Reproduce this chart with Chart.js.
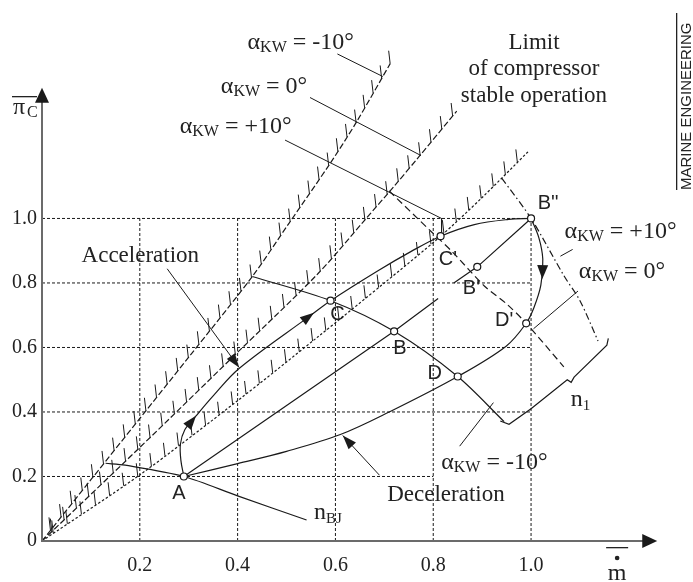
<!DOCTYPE html>
<html>
<head>
<meta charset="utf-8">
<script src="https://cdn.jsdelivr.net/npm/chart.js@4.4.1/dist/chart.umd.min.js"></script>
<style>
  html, body { margin: 0; padding: 0; background: #fff; }
  #wrap { width: 693px; height: 582px; }
</style>
</head>
<body>
<div id="wrap"><canvas id="c" width="693" height="582"></canvas></div>
<script>
// tick values
const xTicks = [0.2, 0.4, 0.6, 0.8, 1.0];
const yTicks = [0, 0.2, 0.4, 0.6, 0.8, 1.0];

// compressor stable operation limits (alpha_KW = -10, 0, +10 deg)
const surgeM10 = [[0,0],[0.1,0.19],[0.2,0.38],[0.3,0.57],[0.43,0.82],[0.505,0.985],[0.588,1.168],[0.641,1.294],[0.712,1.48]];
const surge0   = [[0,0],[0.2,0.29],[0.4,0.585],[0.565,0.83],[0.66,0.995],[0.72,1.1],[0.77,1.19],[0.848,1.333]];
const surgeP10 = [[0,0],[0.2,0.205],[0.4,0.435],[0.565,0.634],[0.7,0.8],[0.815,0.945],[0.9,1.065],[0.996,1.21]];

// n1 lines for the three blade angles
const n1M10 = [[0.43,0.82],[0.59,0.745],[0.72,0.65],[0.85,0.51],[0.945,0.37]];
const n10   = [[0.71,1.085],[0.794,0.962],[0.84,0.895],[0.905,0.79],[0.95,0.735],[0.99,0.675],[1.067,0.54]];
const n1P10 = [[0.94,1.125],[1.0,1.0],[1.067,0.823],[1.10,0.745],[1.137,0.62]];
const nBJ   = [[0.13,0.241],[0.17,0.235],[0.29,0.2],[0.4,0.14],[0.541,0.065]];

// manoeuvre paths
const accelPath = [[0.29,0.2],[0.284,0.25],[0.283,0.30],[0.292,0.345],[0.315,0.388],[0.35,0.45],[0.403,0.535],[0.548,0.698],[0.59,0.745],[0.687,0.838],[0.755,0.898],[0.815,0.945],[0.884,0.981],[0.954,0.997],[1.0,1.0]];
const decelPath = [[1.0,1.0],[1.016,0.94],[1.024,0.874],[1.02,0.793],[1.006,0.724],[0.99,0.675],[0.949,0.604],[0.85,0.51],[0.71,0.40],[0.61,0.33],[0.5,0.278],[0.4,0.24],[0.29,0.2]];
const lineAB  = [[0.29,0.2],[0.72,0.65],[0.81,0.752]];
const lineB2  = [[0.842,0.80],[0.89,0.85],[1.0,1.0]];

// operating points
const pointNames = ['A', 'B', 'C', 'D', "B'", "C'", "D'", "B''"];
const pointVals  = [[0.29,0.2],[0.72,0.65],[0.59,0.745],[0.85,0.51],[0.89,0.85],[0.815,0.945],[0.99,0.675],[1.0,1.0]];

// brace grouping the n1 lines
const braceN1 = [[1.158,0.628],[1.155,0.607],[1.088,0.508],[1.082,0.492],[1.074,0.50],[1.0,0.41],[0.955,0.362],[0.937,0.372]];

// leader lines and label arrows
const leadTopM10 = [[0.604,1.51],[0.697,1.44]];
const leadTop0   = [[0.548,1.375],[0.775,1.195]];
const leadTopP10 = [[0.497,1.243],[0.817,1.0],[0.817,0.957]];
const leadRP10   = [[1.06,0.883],[1.085,0.904]];
const leadR0     = [[1.005,0.658],[1.096,0.775]];
const leadLowM10 = [[0.854,0.294],[0.923,0.429]];
const accLabelArrow = [[0.256,0.844],[0.403,0.538]];
const decLabelArrow = [[0.69,0.204],[0.615,0.327]];

const INK = '#1a1a1a';
const SERIF = "'Liberation Serif', 'Times New Roman', serif";
const SANS = "'Liberation Sans', Arial, sans-serif";

function xy(arr) { return arr.map(p => ({ x: p[0], y: p[1] })); }

function line(arr, opts) {
    return Object.assign({
        data: xy(arr),
        showLine: true,
        pointRadius: 0,
        borderColor: INK,
        borderWidth: 1.2,
        fill: false,
        tension: 0,
        order: 1
    }, opts || {});
}

const datasets = [
    {
        data: xy(pointVals),
        showLine: false,
        pointRadius: 3.5,
        pointBackgroundColor: '#fff',
        pointBorderColor: INK,
        pointBorderWidth: 1.2,
        order: 0
    },
    line(accelPath, { tension: 0.35 }),
    line(decelPath, { tension: 0.35 }),
    line(lineAB),
    line(lineB2),
    line(n1M10, { tension: 0.3 }),
    line(n10, { tension: 0.3, borderDash: [7, 4] }),
    line(n1P10, { tension: 0.3, borderDash: [7, 3, 1.5, 3] }),
    line(nBJ, { tension: 0.3 }),
    line(surgeM10, { tension: 0.3, borderDash: [6, 2.5], hatch: true }),
    line(surge0, { tension: 0.3, borderDash: [6, 2.5], hatch: true }),
    line(surgeP10, { tension: 0.3, borderDash: [2.5, 2], hatch: true }),
    line(braceN1),
    line(leadTopM10, { borderWidth: 1 }),
    line(leadTop0, { borderWidth: 1 }),
    line(leadTopP10, { borderWidth: 1 }),
    line(leadRP10, { borderWidth: 1 }),
    line(leadR0, { borderWidth: 1 }),
    line(leadLowM10, { borderWidth: 1 }),
    line(accLabelArrow, { borderWidth: 1 }),
    line(decLabelArrow, { borderWidth: 1 })
];

// dashed grid, built from the tick values
xTicks.forEach(v => datasets.push(line([[v, 0], [v, 1.0]], { borderWidth: 1, borderDash: [3, 2], order: 2 })));
yTicks.filter(v => v > 0).forEach(v => {
    const end = v === 0.2 ? 0.8 : 1.0;
    datasets.push(line([[0, v], [end, v]], { borderWidth: 1, borderDash: [3, 2], order: 2 }));
});

function rich(ctx, parts, x, y, align) {
    let w = 0;
    parts.forEach(p => { ctx.font = p[1] + 'px ' + p[2]; w += ctx.measureText(p[0]).width; });
    let cx = align === 'center' ? x - w / 2 : (align === 'right' ? x - w : x);
    ctx.textAlign = 'left';
    ctx.textBaseline = 'middle';
    parts.forEach(p => {
        ctx.font = p[1] + 'px ' + p[2];
        ctx.fillText(p[0], cx, y + (p[3] || 0));
        cx += ctx.measureText(p[0]).width;
    });
}

function alphaLabel(ctx, val, x, y) {
    rich(ctx, [['\u03B1', 24, SERIF], ['KW', 16, SERIF, 5], [' = ' + val, 24, SERIF]], x, y, 'center');
}

function head(ctx, tip, from, len, half) {
    const a = Math.atan2(tip[1] - from[1], tip[0] - from[0]);
    ctx.beginPath();
    ctx.moveTo(tip[0], tip[1]);
    ctx.lineTo(tip[0] - len * Math.cos(a) + half * Math.sin(a), tip[1] - len * Math.sin(a) - half * Math.cos(a));
    ctx.lineTo(tip[0] - len * Math.cos(a) - half * Math.sin(a), tip[1] - len * Math.sin(a) + half * Math.cos(a));
    ctx.closePath();
    ctx.fill();
}

function hatch(ctx, pts, step) {
    let acc = 0, next = step * 0.8;
    ctx.beginPath();
    for (let i = 1; i < pts.length; i++) {
        const dx = pts[i][0] - pts[i - 1][0], dy = pts[i][1] - pts[i - 1][1];
        const L = Math.hypot(dx, dy);
        while (acc + L >= next) {
            const t = (next - acc) / L;
            const x = pts[i - 1][0] + dx * t, y = pts[i - 1][1] + dy * t;
            ctx.moveTo(x, y);
            ctx.lineTo(x - 1.5, y - 13);
            next += step;
        }
        acc += L;
    }
    ctx.stroke();
}

const diagram = {
    id: 'diagram',
    afterDatasetsDraw(chart) {
        const ctx = chart.ctx;
        const xs = chart.scales.x, ys = chart.scales.y;
        const X = v => xs.getPixelForValue(v), Y = v => ys.getPixelForValue(v);
        const P = p => [X(p[0]), Y(p[1])];
        ctx.save();

        // hatching on the stability limits
        ctx.strokeStyle = INK;
        ctx.lineWidth = 1;
        chart.data.datasets.forEach((ds, i) => {
            if (!ds.hatch) return;
            const pts = chart.getDatasetMeta(i).data.map(p => [p.x, p.y]);
            hatch(ctx, pts, 17);
        });

        // axes with arrows
        ctx.strokeStyle = '#6b6b6b';
        ctx.fillStyle = INK;
        ctx.lineWidth = 2;
        ctx.beginPath();
        ctx.moveTo(X(0), Y(1.37));
        ctx.lineTo(X(0), Y(0));
        ctx.lineTo(X(1.232), Y(0));
        ctx.stroke();
        head(ctx, [X(0), Y(1.405)], [X(0), Y(0)], 15, 7);
        head(ctx, [X(1.258), Y(0)], [X(0), Y(0)], 15, 7);

        // path arrows
        head(ctx, P([0.315, 0.388]), P([0.292, 0.345]), 14, 5);
        head(ctx, P([0.556, 0.708]), P([0.48, 0.62]), 14, 5);
        head(ctx, P([1.023, 0.812]), P([1.024, 0.87]), 14, 5.5);
        head(ctx, P(accLabelArrow[1]), P(accLabelArrow[0]), 14, 5);
        head(ctx, P(decLabelArrow[1]), P(decLabelArrow[0]), 14, 5);

        ctx.fillStyle = '#222';
        // blade angle labels
        alphaLabel(ctx, '-10\u00B0', X(0.529), Y(1.544));
        alphaLabel(ctx, '0\u00B0', X(0.454), Y(1.408));
        alphaLabel(ctx, '+10\u00B0', X(0.396), Y(1.285));
        alphaLabel(ctx, '+10\u00B0', X(1.183), Y(0.958));
        alphaLabel(ctx, '0\u00B0', X(1.186), Y(0.835));
        alphaLabel(ctx, '-10\u00B0', X(0.925), Y(0.243));

        ctx.textAlign = 'center';
        ctx.textBaseline = 'middle';
        ctx.font = '23px ' + SERIF;
        ctx.fillText('Limit', X(1.006), Y(1.544));
        ctx.fillText('of compressor', X(1.006), Y(1.463));
        ctx.fillText('stable operation', X(1.006), Y(1.381));
        ctx.fillText('Acceleration', X(0.201), Y(0.883));
        ctx.fillText('Deceleration', X(0.826), Y(0.144));

        rich(ctx, [['n', 24, SERIF], ['BJ', 15, SERIF, 6]], X(0.556), Y(0.087), 'left');
        rich(ctx, [['n', 24, SERIF], ['1', 15, SERIF, 6]], X(1.081), Y(0.438), 'left');

        // point names
        const namePos = [[0.28,0.147],[0.732,0.598],[0.604,0.703],[0.803,0.52],[0.878,0.784],[0.83,0.874],[0.945,0.685],[1.035,1.045]];
        ctx.font = '20px ' + SANS;
        ctx.textAlign = 'center';
        pointNames.forEach((n, i) => ctx.fillText(n, X(namePos[i][0]), Y(namePos[i][1])));

        // axis titles
        ctx.font = '24px ' + SERIF;
        ctx.textAlign = 'left';
        ctx.textBaseline = 'alphabetic';
        ctx.fillText('\u03C0', 13, 114);
        ctx.font = '16px ' + SERIF;
        ctx.fillText('C', 27, 117);
        ctx.fillRect(12, 96, 25, 1.3);

        ctx.font = '24px ' + SERIF;
        ctx.textAlign = 'center';
        ctx.fillText('m', X(1.176), 580);
        ctx.beginPath();
        ctx.arc(X(1.176), 558, 2.3, 0, Math.PI * 2);
        ctx.fill();
        ctx.fillRect(X(1.176) - 11, 547, 22, 1.3);

        // journal strip
        ctx.fillRect(676, 13, 1.3, 177);
        ctx.save();
        ctx.translate(679, 190);
        ctx.rotate(-Math.PI / 2);
        ctx.font = '15px ' + SANS;
        ctx.textAlign = 'left';
        ctx.textBaseline = 'top';
        ctx.fillText('MARINE ENGINEERING', 0, 0, 178);
        ctx.restore();

        ctx.restore();
    }
};

new Chart(document.getElementById('c'), {
    type: 'scatter',
    data: { datasets },
    options: {
        responsive: false,
        animation: false,
        layout: { padding: 0 },
        plugins: { legend: { display: false }, tooltip: { enabled: false } },
        scales: {
            x: {
                type: 'linear',
                min: 0,
                max: 1.3205,
                grid: { display: false, drawTicks: false },
                border: { display: false },
                afterBuildTicks: axis => { axis.ticks = xTicks.map(v => ({ value: v })); },
                afterFit: axis => { axis.height = 41; },
                ticks: {
                    padding: 13,
                    color: '#222',
                    font: { family: SERIF, size: 20 },
                    callback: v => v.toFixed(1)
                }
            },
            y: {
                type: 'linear',
                min: 0,
                max: 1.6246,
                grid: { display: false, drawTicks: false },
                border: { display: false },
                afterBuildTicks: axis => { axis.ticks = yTicks.map(v => ({ value: v })); },
                afterFit: axis => { axis.width = 42; },
                ticks: {
                    padding: 5,
                    color: '#222',
                    font: { family: SERIF, size: 20 },
                    callback: v => v === 0 ? '0' : v.toFixed(1)
                }
            }
        }
    },
    plugins: [diagram]
});
</script>
</body>
</html>
